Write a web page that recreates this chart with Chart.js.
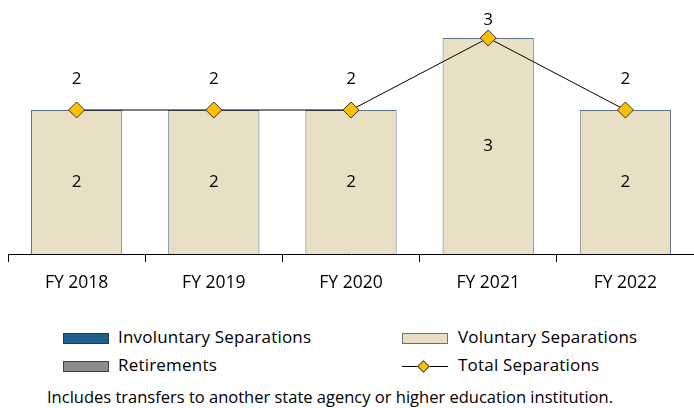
<!DOCTYPE html>
<html>
<head>
<meta charset="utf-8">
<script src="https://cdn.jsdelivr.net/npm/chart.js@4.4.0/dist/chart.umd.min.js"></script>
<style>
  html, body { margin:0; padding:0; background:#fff; }
  body { width:694px; height:408px; position:relative; overflow:hidden; font-family: "Open Sans", Lato, sans-serif; color:#000; }
  #wrap { position:absolute; left:0; top:0; width:694px; height:305px; }
  .leg { position:absolute; font-size:17px; letter-spacing:0.2px; line-height:20px; white-space:nowrap; }
  .sw { position:absolute; width:46px; height:11px; box-sizing:border-box; }
  #note { position:absolute; left:47px; top:387px; font-size:16.5px; line-height:20px; white-space:nowrap; }
</style>
</head>
<body>
<div id="wrap"><canvas id="c" width="694" height="305"></canvas></div>

<div class="sw" style="left:63px;top:333px;background:#1F5F8B;border:1px solid #1A3C58;"></div>
<div class="leg" style="left:118px;top:327px;">Involuntary Separations</div>
<div class="sw" style="left:63px;top:361px;background:#8C8C8C;border:1px solid #404040;"></div>
<div class="leg" style="left:118px;top:355px;">Retirements</div>
<div class="sw" style="left:402px;top:333px;background:#E8DFC5;border:1px solid #5F7089;"></div>
<div class="leg" style="left:458px;top:327px;">Voluntary Separations</div>
<div class="sw" style="left:402px;top:366px;height:1px;background:#000;"></div>
<div style="position:absolute;left:419px;top:362px;width:7px;height:7px;background:#FFC000;border:1px solid #444;transform:rotate(45deg);"></div>
<div class="leg" style="left:458px;top:355px;">Total Separations</div>
<div id="note">Includes transfers to another state agency or higher education institution.</div>

<script>
const categories = ["FY 2018", "FY 2019", "FY 2020", "FY 2021", "FY 2022"];
const involuntary = [0, 0, 0, 0, 0];
const retirements = [0, 0, 0, 0, 0];
const voluntary = [2, 2, 2, 3, 2];
const total = [2, 2, 2, 3, 2];

const FONT = '"Open Sans", Lato, sans-serif';

const labelPlugin = {
  id: 'valueLabels',
  afterDatasetsDraw(chart) {
    const ctx = chart.ctx;
    ctx.save();
    ctx.font = '17px ' + FONT;
    ctx.fillStyle = '#000';
    ctx.textAlign = 'center';
    ctx.textBaseline = 'middle';
    chart.data.datasets.forEach((ds, i) => {
      const meta = chart.getDatasetMeta(i);
      if (ds.type === 'line') {
        meta.data.forEach((pt, j) => {
          const y = Math.max(pt.y - 31, chart.chartArea.top + 18);
          ctx.fillText(String(ds.data[j]), pt.x, y);
        });
      } else if (ds.label === 'Voluntary Separations') {
        meta.data.forEach((bar, j) => {
          if (!ds.data[j]) return;
          ctx.fillText(String(ds.data[j]), bar.x, (bar.y + bar.base) / 2);
        });
      }
    });
    ctx.restore();
  }
};

new Chart(document.getElementById('c'), {
  type: 'bar',
  data: {
    labels: categories,
    datasets: [
      { type: 'line', label: 'Total Separations', data: total, stack: 'total', order: 0,
        borderColor: '#000', borderWidth: 1, pointStyle: 'rectRot', pointRadius: 8, pointHoverRadius: 8,
        pointBackgroundColor: '#FFC000', pointBorderColor: '#333', pointBorderWidth: 1, tension: 0, fill: false },
      { label: 'Involuntary Separations', data: involuntary, stack: 's', order: 1,
        backgroundColor: '#1F5F8B', borderColor: '#1A3C58', borderWidth: 1 },
      { label: 'Retirements', data: retirements, stack: 's', order: 1,
        backgroundColor: '#8C8C8C', borderColor: '#404040', borderWidth: 1 },
      { label: 'Voluntary Separations', data: voluntary, stack: 's', order: 1,
        backgroundColor: '#E8DFC5', borderColor: '#5F7089', borderWidth: 1 }
    ]
  },
  options: {
    responsive: false,
    animation: false,
    devicePixelRatio: 1,
    layout: { autoPadding: false, padding: { left: 8, right: 0, top: 2, bottom: 0 } },
    plugins: { legend: { display: false }, tooltip: { enabled: false } },
    datasets: { bar: { categoryPercentage: 1, barPercentage: 0.665 } },
    scales: {
      x: {
        stacked: true,
        offset: true,
        grid: { offset: true, drawOnChartArea: false, drawTicks: true, tickLength: 8, color: '#000', lineWidth: 1 },
        border: { display: true, color: '#000', width: 1 },
        ticks: { color: '#000', padding: 11, font: { family: FONT, size: 17.5 } }
      },
      y: {
        stacked: true,
        display: false,
        min: 0, max: 3.5
      }
    }
  },
  plugins: [labelPlugin]
});
</script>
</body>
</html>
